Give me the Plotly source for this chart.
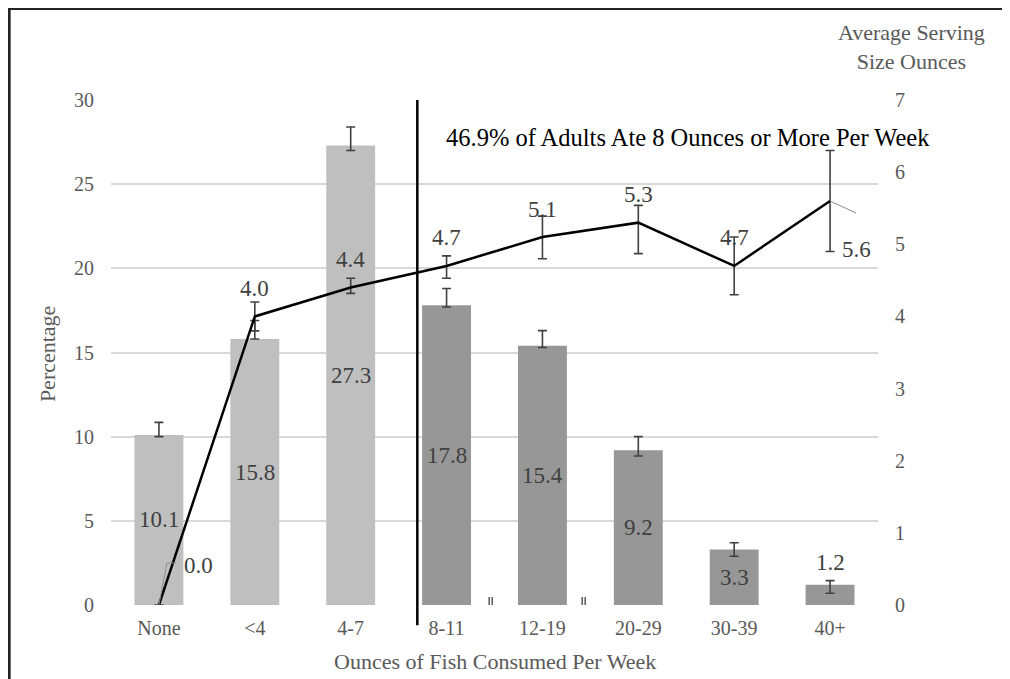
import plotly.graph_objects as go

categories = ["None", "<4", "4-7", "8-11", "12-19", "20-29", "30-39", "40+"]
percentage = [10.1, 15.8, 27.3, 17.8, 15.4, 9.2, 3.3, 1.2]
pct_err_plus = [0.75, 1.1, 1.1, 1.0, 0.9, 0.8, 0.4, 0.25]
pct_err_minus = [0.1, 0.0, 0.3, 0.1, 0.1, 0.35, 0.4, 0.5]
serving = [0.0, 4.0, 4.4, 4.7, 5.1, 5.3, 4.7, 5.6]
serv_err_plus = [0.0, 0.2, 0.13, 0.14, 0.29, 0.24, 0.4, 0.7]
serv_err_minus = [0.0, 0.2, 0.08, 0.17, 0.3, 0.43, 0.4, 0.7]
bar_colors = ["#bfbfbf"] * 3 + ["#979797"] * 5
left_ticks = [0, 5, 10, 15, 20, 25, 30]
right_ticks = [0, 1, 2, 3, 4, 5, 6, 7]
divider_x = 2.695
break_marks_x = [3.46, 4.43]
note_text = "46.9% of Adults Ate 8 Ounces or More Per Week"

FONT = "Liberation Serif, Times New Roman, serif"
GRAY = "#595959"
DARK = "#404040"
LEADER = "#8c8c8c"
LABEL_SIZE = 23

xs = list(range(len(categories)))

fig = go.Figure()
fig.add_trace(go.Bar(
    x=xs, y=percentage, width=0.51, marker=dict(color=bar_colors, line=dict(width=0)),
    error_y=dict(type="data", symmetric=False, array=pct_err_plus, arrayminus=pct_err_minus,
                 color=DARK, thickness=1.6, width=4.5),
    yaxis="y", showlegend=False, hoverinfo="skip"))
fig.add_trace(go.Scatter(
    x=xs, y=serving, mode="lines", line=dict(color="black", width=2.5),
    error_y=dict(type="data", symmetric=False, array=serv_err_plus, arrayminus=serv_err_minus,
                 color=DARK, thickness=1.6, width=4.5),
    yaxis="y2", showlegend=False, hoverinfo="skip"))

annotations = []
# bar value labels
for x, v, p in zip(xs, percentage, pct_err_plus):
    if v > 2:
        annotations.append(dict(x=x, y=v / 2, xref="x", yref="y", text=f"{v:.1f}", showarrow=False,
                                font=dict(family=FONT, size=LABEL_SIZE, color=DARK)))
    else:
        annotations.append(dict(x=x, y=v + p, xref="x", yref="y", text=f"{v:.1f}", showarrow=False,
                                yshift=18, font=dict(family=FONT, size=LABEL_SIZE, color=DARK)))
# line value labels
for x, v in zip(xs, serving):
    xs_, ys_ = 0, 28
    if x == 0:
        xs_, ys_ = 40, 40
    elif x == len(xs) - 1:
        xs_, ys_ = 26, -48
    annotations.append(dict(x=x, y=v, xref="x", yref="y2", text=f"{v:.1f}", showarrow=False,
                            xshift=xs_, yshift=ys_, font=dict(family=FONT, size=LABEL_SIZE, color=DARK)))
# note
annotations.append(dict(x=0.4336, y=0.925, xref="paper", yref="paper", xanchor="left", yanchor="middle",
                        text=note_text, showarrow=False, font=dict(family=FONT, size=24.5, color="black")))
# axis titles
annotations.append(dict(x=0.5, y=-0.111, xref="paper", yref="paper", xanchor="center", yanchor="middle",
                        text="Ounces of Fish Consumed Per Week", showarrow=False,
                        font=dict(family=FONT, size=22, color=GRAY)))
annotations.append(dict(x=-0.0833, y=0.497, xref="paper", yref="paper", xanchor="center", yanchor="middle",
                        text="Percentage", textangle=-90, showarrow=False,
                        font=dict(family=FONT, size=22, color=GRAY)))
annotations.append(dict(x=1.044, y=1.105, xref="paper", yref="paper", xanchor="center", yanchor="middle",
                        text="Average Serving<br>Size Ounces", showarrow=False,
                        font=dict(family=FONT, size=22, color=GRAY)))

shapes = [
    # divider
    dict(type="line", xref="x", yref="paper", x0=divider_x, x1=divider_x, y0=-0.04, y1=1.0,
         line=dict(color="black", width=2.5), layer="above"),
    # leader lines for 0.0 label
    dict(type="line", xref="x", yref="y2", xsizemode="pixel", ysizemode="pixel",
         xanchor=xs[0], yanchor=serving[0], x0=0, y0=0, x1=8, y1=42, line=dict(color=LEADER, width=1)),
    dict(type="line", xref="x", yref="y2", xsizemode="pixel", ysizemode="pixel",
         xanchor=xs[0], yanchor=serving[0], x0=8, y0=42, x1=17, y1=42, line=dict(color=LEADER, width=1)),
    # leader line for last label
    dict(type="line", xref="x", yref="y2", xsizemode="pixel", ysizemode="pixel",
         xanchor=xs[-1], yanchor=serving[-1], x0=0, y0=0, x1=26, y1=-12, line=dict(color=LEADER, width=1)),
    # outer frame (top & left)
    dict(type="line", xref="paper", yref="paper", x0=-0.14, x1=1.2, y0=1.1812, y1=1.1812,
         line=dict(color="#222222", width=3)),
    dict(type="line", xref="paper", yref="paper", x0=-0.1328, x1=-0.1328, y0=-0.2, y1=1.19,
         line=dict(color="#222222", width=3)),
]
# axis break marks (double short verticals)
for bx in break_marks_x:
    for dx in (-1.5, 1.5):
        shapes.append(dict(type="line", xref="x", yref="y", xsizemode="pixel", ysizemode="pixel",
                           xanchor=bx, yanchor=0, x0=dx, x1=dx, y0=8, y1=-8,
                           line=dict(color=DARK, width=1.3)))

fig.update_layout(
    width=1002, height=671,
    margin=dict(l=103, r=132, t=92, b=74),
    paper_bgcolor="white", plot_bgcolor="white",
    font=dict(family=FONT, color=GRAY, size=20),
    xaxis=dict(range=[-0.5, 7.5], tickmode="array", tickvals=xs, ticktext=categories,
               showgrid=False, zeroline=False, showline=False, ticks="",
               tickfont=dict(family=FONT, size=20, color=GRAY), ticklabelstandoff=9),
    yaxis=dict(range=[0, 30], tickmode="array", tickvals=left_ticks, showgrid=True,
               gridcolor="#d9d9d9", gridwidth=1.5, zeroline=False, showline=False, ticks="",
               tickfont=dict(family=FONT, size=20, color=GRAY), ticklabelstandoff=16),
    yaxis2=dict(range=[0, 7], tickmode="array", tickvals=right_ticks, overlaying="y", side="right",
                showgrid=False, zeroline=False, showline=False, ticks="",
                tickfont=dict(family=FONT, size=20, color=GRAY), ticklabelstandoff=16),
    annotations=annotations,
    shapes=shapes,
)

fig.write_html("out.html")
